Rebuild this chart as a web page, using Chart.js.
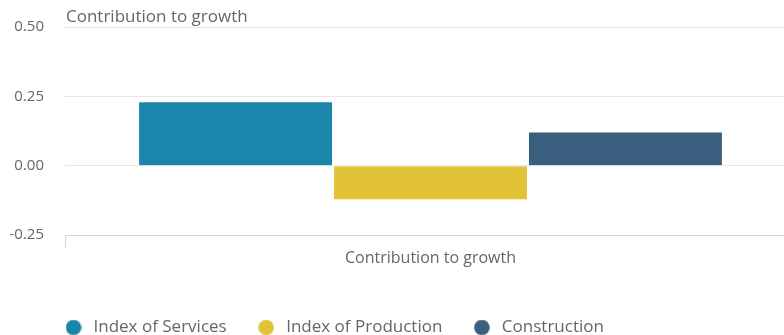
<!DOCTYPE html>
<html lang="en">
<head>
    <meta charset="utf-8">
    <title>Contribution to growth</title>
    <script src="https://cdn.jsdelivr.net/npm/chart.js"></script>
    <style>
        html, body { margin: 0; padding: 0; overflow: hidden; background: #fff; }
        #wrap { width: 796px; height: 335px; }
    </style>
</head>
<body>
<div id="wrap">
    <canvas id="growthChart" width="796" height="335"></canvas>
</div>
<script>
    // data
    const categories = ['Contribution to growth'];
    const seriesNames = ['Index of Services', 'Index of Production', 'Construction'];
    const seriesValues = [[0.232], [-0.125], [0.123]];
    const seriesColors = ['#1b86ab', '#e2c237', '#3a5e7e'];
    const yTicks = [-0.25, 0, 0.25, 0.5];

    const textColor = '#666666';
    Chart.defaults.font.family = '"Open Sans", sans-serif';

    // small round marker for the legend (keeps the gap to the text wider)
    function dot(color) {
        const c = document.createElement('canvas');
        c.width = 16;
        c.height = 16;
        const g = c.getContext('2d');
        g.fillStyle = color;
        g.beginPath();
        g.arc(8, 8, 7.8, 0, Math.PI * 2);
        g.fill();
        return c;
    }
    const dots = seriesColors.map(dot);

    // axis title drawn top-left, above the plot
    const topTitle = {
        id: 'topTitle',
        afterDraw(chart) {
            const ctx = chart.ctx;
            ctx.save();
            ctx.font = '17px "Open Sans", sans-serif';
            ctx.fillStyle = textColor;
            ctx.textAlign = 'left';
            ctx.textBaseline = 'middle';
            ctx.fillText('Contribution to growth', chart.chartArea.left + 1, 17);
            ctx.restore();
        }
    };

    // legend: shorter box, moved under the plot's left edge
    const legendPlace = {
        id: 'legendPlace',
        afterInit(chart) {
            const legend = chart.legend;
            const fit = legend.fit;
            legend.fit = function () {
                fit.call(this);
                this.height = 44;
            };
        },
        afterLayout(chart) {
            chart.legend.left = 34;
        }
    };

    const ctx = document.getElementById('growthChart').getContext('2d');
    const growthChart = new Chart(ctx, {
        type: 'bar',
        data: {
            labels: categories,
            datasets: seriesNames.map((name, i) => ({
                label: name,
                data: seriesValues[i],
                backgroundColor: seriesColors[i],
                borderColor: 'rgba(255,255,255,0.35)',
                borderWidth: 1,
                categoryPercentage: 0.8,
                barPercentage: 1.0
            }))
        },
        options: {
            responsive: false,
            animation: false,
            layout: { padding: { top: 27, left: 0, right: 0, bottom: 0 } },
            plugins: {
                tooltip: { enabled: false },
                legend: {
                    position: 'bottom',
                    align: 'start',
                    labels: {
                        usePointStyle: true,
                        pointStyleWidth: 23,
                        boxHeight: 12,
                        padding: 28,
                        color: textColor,
                        font: { size: 17 },
                        generateLabels(chart) {
                            const items = Chart.defaults.plugins.legend.labels.generateLabels(chart);
                            items.forEach((it, i) => { it.pointStyle = dots[i]; });
                            return items;
                        }
                    }
                }
            },
            scales: {
                x: {
                    offset: true,
                    grid: {
                        offset: true,
                        drawOnChartArea: false,
                        color: '#ccd6eb',
                        tickLength: 13
                    },
                    border: { color: '#ccd6eb' },
                    ticks: { color: textColor, font: { size: 16 }, padding: 1 },
                    afterFit(scale) { scale.height = 56; }
                },
                y: {
                    min: -0.25,
                    max: 0.5,
                    afterBuildTicks(scale) { scale.ticks = yTicks.map(v => ({ value: v })); },
                    afterFit(scale) { scale.width = 65; },
                    grid: {
                        // bottom line is the x axis border, keep it bluish
                        color: c => (c.tick && c.tick.value === yTicks[0]) ? 'rgba(0,0,0,0)' : '#e6e6e6',
                        tickColor: 'rgba(0,0,0,0)',
                        tickLength: 21
                    },
                    border: { display: false },
                    ticks: {
                        color: textColor,
                        font: { size: 15 },
                        padding: 0,
                        callback: v => Number(v).toFixed(2)
                    }
                }
            }
        },
        plugins: [topTitle, legendPlace]
    });
</script>
</body>
</html>
